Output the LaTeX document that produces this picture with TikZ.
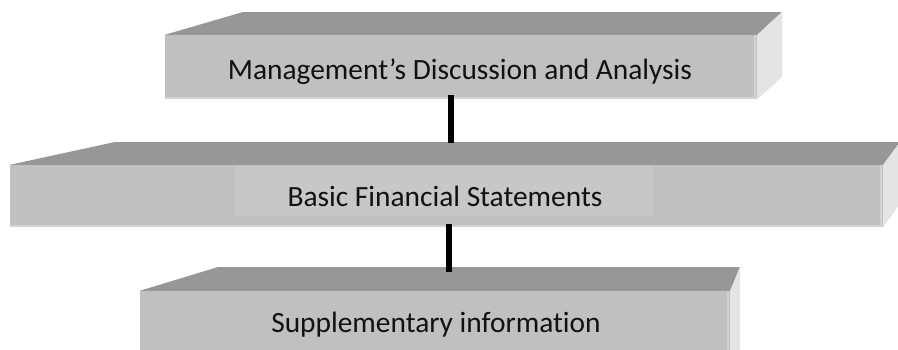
\documentclass[tikz,border=0pt]{standalone}
\usepackage{fontspec}
\setmainfont{Carlito}[RawFeature={-liga,-clig,-dlig}]
\definecolor{frontgray}{HTML}{C0C0C0}
\definecolor{topgray}{HTML}{979797}
\definecolor{sidegray}{HTML}{E4E4E4}
\definecolor{innergray}{HTML}{C7C7C7}
\definecolor{edgegray}{HTML}{D2D2D2}
\definecolor{textgray}{HTML}{111111}
\tikzset{
  front/.style={fill=frontgray, draw=none, inner sep=0pt, text=textgray,
    font=\fontsize{29.4}{34}\selectfont},
  topface/.style={fill=topgray, draw=none},
  sideface/.style={fill=sidegray, draw=none},
  edgeline/.style={draw=edgegray, line width=1.5pt},
  conn/.style={draw=black, line width=6pt}
}
\begin{document}
\begin{tikzpicture}[x=1pt,y=-1pt]
\useasboundingbox[fill=white] (0,0) rectangle (898,349);
% top box
\node[front, minimum width=592pt, minimum height=64pt] (mda) at (461,67) {};
\fill[topface] (mda.north west) -- (243,12) -- (782,12) -- (mda.north east) -- cycle;
\fill[sideface] (mda.north east) -- (782,12) -- (782,77) -- (mda.south east) -- cycle;
\draw[edgeline] ([yshift=1pt]mda.south west) -- ([yshift=1pt]mda.south east);
\draw[edgeline] ([xshift=-2pt]mda.north east) -- ([xshift=-2pt]mda.south east);
\node[front, fill=none, anchor=center] (mdatext) at (460,72) {Management’s Discussion and Analysis};
% middle box
\node[front, minimum width=873pt, minimum height=62pt] (bfs) at (446.5,196) {};
\fill[topface] (bfs.north west) -- (115,142) -- (900,142) -- (bfs.north east) -- cycle;
\fill[sideface] (bfs.north east) -- (900,142) -- (900,204) -- (bfs.south east) -- cycle;
\fill[innergray] (235,166) rectangle (653,216);
\draw[edgeline] ([yshift=1pt]bfs.south west) -- ([yshift=1pt]bfs.south east);
\draw[edgeline] ([xshift=-2pt]bfs.north east) -- ([xshift=-2pt]bfs.south east);
\node[front, fill=none] (bfstext) at (445,196) {Basic Financial Statements};
% bottom box
\node[front, minimum width=590pt, minimum height=70pt] (sup) at (435,326) {};
\fill[topface] (sup.north west) -- (218,267) -- (740,267) -- (sup.north east) -- cycle;
\fill[sideface] (sup.north east) -- (740,267) -- (740,360) -- (sup.south east) -- cycle;
\draw[edgeline] ([xshift=-2pt]sup.north east) -- ([xshift=-2pt]sup.south east);
\node[front, fill=none] (suptext) at (436,325) {Supplementary information};
% connectors
\coordinate (c1a) at (451,95);
\coordinate (c1b) at (451,143);
\coordinate (c2a) at (448.5,224);
\coordinate (c2b) at (448.5,272);
\draw[conn] (c1a) -- (c1b);
\draw[conn] (c2a) -- (c2b);
\end{tikzpicture}
\end{document}
